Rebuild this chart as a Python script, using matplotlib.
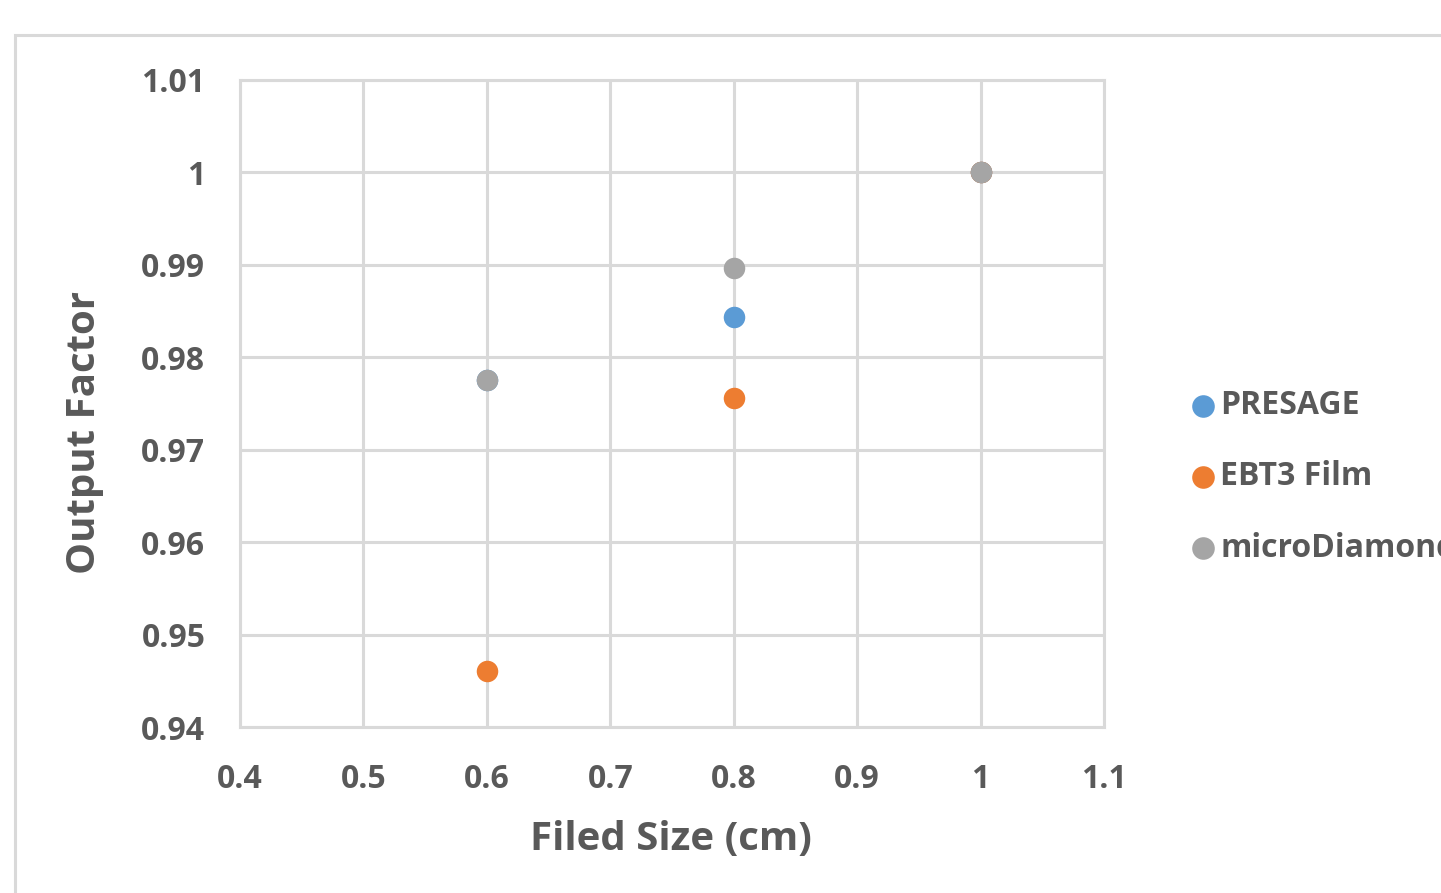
import numpy as np
import matplotlib
matplotlib.use('Agg')
import matplotlib.pyplot as plt
from matplotlib.patches import Rectangle

# output factor vs field size
field_size = [0.6, 0.8, 1.0]
presage = [0.9775, 0.9844, 1.0]
ebt3_film = [0.9461, 0.9756, 1.0]
micro_diamond = [0.9775, 0.9897, 1.0]

series_names = ['PRESAGE', 'EBT3 Film', 'microDiamond']
series_colors = ['#5b9bd5', '#ed7d31', '#a5a5a5']

x_ticks = [0.4, 0.5, 0.6, 0.7, 0.8, 0.9, 1.0, 1.1]
x_labels = ['0.4', '0.5', '0.6', '0.7', '0.8', '0.9', '1', '1.1']
y_ticks = [0.94, 0.95, 0.96, 0.97, 0.98, 0.99, 1.0, 1.01]
y_labels = ['0.94', '0.95', '0.96', '0.97', '0.98', '0.99', '1', '1.01']

txt = '#595959'
grid = '#d9d9d9'
plt.rcParams['font.family'] = ['Open Sans', 'DejaVu Sans']

fig = plt.figure(figsize=(14.41, 8.93), dpi=100)
fig.patch.set_facecolor('white')

# outer chart frame, runs off the right and bottom edges
fig.patches.append(Rectangle((15 / 1441, -0.05), 1.2, 1 - 35 / 893 + 0.05,
                             transform=fig.transFigure, fill=False,
                             edgecolor=grid, linewidth=2.2))

ax = fig.add_axes([240 / 1441, 1 - 727 / 893, 864 / 1441, 647 / 893])
for vals, name, col in zip([presage, ebt3_film, micro_diamond], series_names, series_colors):
    ax.scatter(field_size, vals, s=240, color=col, label=name, zorder=3, linewidths=0)

ax.set_xlim(0.4, 1.1)
ax.set_ylim(0.94, 1.01)
ax.set_xticks(x_ticks)
ax.set_xticklabels(x_labels)
ax.set_yticks(y_ticks)
ax.set_yticklabels(y_labels)
ax.grid(True, color=grid, linewidth=2.2, zorder=0)
ax.set_axisbelow(True)
for sp in ax.spines.values():
    sp.set_color(grid)
    sp.set_linewidth(2.2)
ax.tick_params(length=0, colors=txt, labelsize=23)
ax.tick_params(axis='x', pad=26)
ax.tick_params(axis='y', pad=25)
for lab in ax.get_xticklabels() + ax.get_yticklabels():
    lab.set_fontweight('bold')

fig.text(671 / 1441, 1 - 840 / 893, 'Filed Size (cm)', ha='center', va='center',
         fontsize=29, color=txt, fontweight='bold')
fig.text(85 / 1441, 1 - 432 / 893, 'Output Factor', ha='center', va='center',
         fontsize=29, color=txt, fontweight='bold', rotation=90)

leg = fig.legend(loc='center left', bbox_to_anchor=(1142 / 1441, 1 - 477 / 893),
                 frameon=False, fontsize=23, labelspacing=1.2, handletextpad=-0.45,
                 markerscale=1.05, scatterpoints=1)
for t in leg.get_texts():
    t.set_color(txt)
    t.set_fontweight('bold')

fig.savefig('out.png', dpi=100)
